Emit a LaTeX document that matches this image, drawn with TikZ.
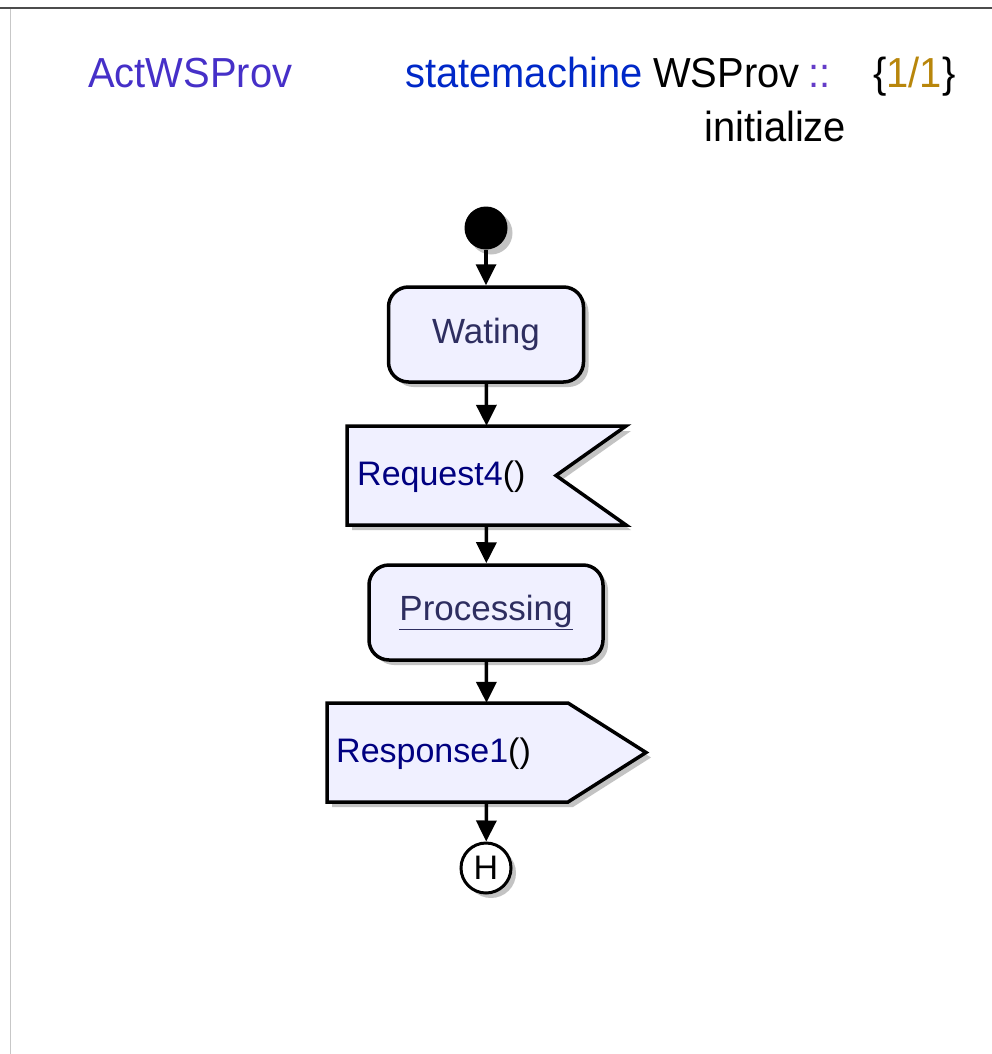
\documentclass[tikz,border=0pt]{standalone}
\usepackage{fontspec}
\setmainfont{Liberation Sans}
\newfontfamily\hdrfont[FakeStretch=0.95]{Liberation Sans}
\usetikzlibrary{arrows.meta,shadows}
\definecolor{actcol}{RGB}{70,48,200}
\definecolor{kwcol}{RGB}{0,40,200}
\definecolor{sepcol}{RGB}{100,60,200}
\definecolor{numcol}{RGB}{184,134,11}
\definecolor{statetext}{RGB}{46,46,96}
\definecolor{sigtext}{RGB}{0,0,128}
\definecolor{statefill}{RGB}{240,240,255}
\definecolor{shadowcol}{RGB}{195,195,195}
\tikzset{
  shad/.style={drop shadow={shadow xshift=5pt,shadow yshift=-5pt,fill=shadowcol,opacity=1}},
  statebox/.style={draw=black,line width=3.5pt,fill=statefill,rounded corners=20pt,shad,
    inner sep=0pt,font=\fontsize{35}{38}\selectfont,text=statetext},
  sigbox/.style={draw=black,line width=3.5pt,fill=statefill,shad,line join=miter},
  anchorbox/.style={inner sep=0pt,draw=none},
  conn/.style={line width=3.5pt,-{Triangle[length=21pt,width=20pt]}},
  title/.style={inner sep=0pt,anchor=base west,font=\hdrfont\fontsize{42}{46}\selectfont},
  sigtxt/.style={inner sep=0pt,anchor=base west,font=\fontsize{34}{37}\selectfont,text=sigtext},
}
\begin{document}
\begin{tikzpicture}[x=1pt,y=-1pt]
\useasboundingbox (0,0) rectangle (992,1054);
% frame
\draw[line width=1.5pt,black!70] (0,8) -- (992,8);
\draw[line width=1pt,black!22] (10,9) -- (10,1054);
% header
\node[title,text=actcol] (act) at (88,88) {ActWSProv};
\node[title,text=kwcol] (kw) at (405,88) {statemachine};
\node[title] (wsp) at (653,88) {WSProv};
\node[title,text=sepcol] (sep) at (808,88) {::};
\node[title] (idx) at (873,88) {\{\textcolor{numcol}{1/1}\}};
\node[title] (ini) at (704,141) {initialize};
% initial
\node[circle,fill=black,minimum size=43pt,inner sep=0pt,shad] (init) at (486,228) {};
% Wating
\node[statebox,minimum width=195pt,minimum height=95pt] (wat) at (486,334.5) {Wating};
% Request4 (receive signal)
\node[anchorbox,minimum width=279pt,minimum height=99pt] (req) at (486.5,475.5) {};
\path[sigbox] (347,426) -- (626,426) -- (556,475.5) -- (626,525) -- (347,525) -- cycle;
\node[sigtxt] (reqt) at (357,485) {Request4\textcolor{black}{()}};
% Processing
\node[statebox,minimum width=234pt,minimum height=95pt] (proc) at (486,612.5) {\underline{Processing}};
% Response1 (send signal)
\node[anchorbox,minimum width=319pt,minimum height=99pt] (resp) at (486.5,752.5) {};
\path[sigbox] (327,703) -- (568,703) -- (646,752.5) -- (568,802) -- (327,802) -- cycle;
\node[sigtxt] (respt) at (336,762) {Response1\textcolor{black}{()}};
% History
\node[circle,draw=black,line width=3pt,fill=white,minimum size=50pt,inner sep=0pt,shad,
  font=\fontsize{34}{36}\selectfont] (hist) at (486,868) {H};
% connectors
\draw[conn] (init) -- (wat);
\draw[conn] (wat) -- (req.north);
\draw[conn] (req.south) -- (proc);
\draw[conn] (proc) -- (resp.north);
\draw[conn] (resp.south) -- (hist);
\end{tikzpicture}
\end{document}
